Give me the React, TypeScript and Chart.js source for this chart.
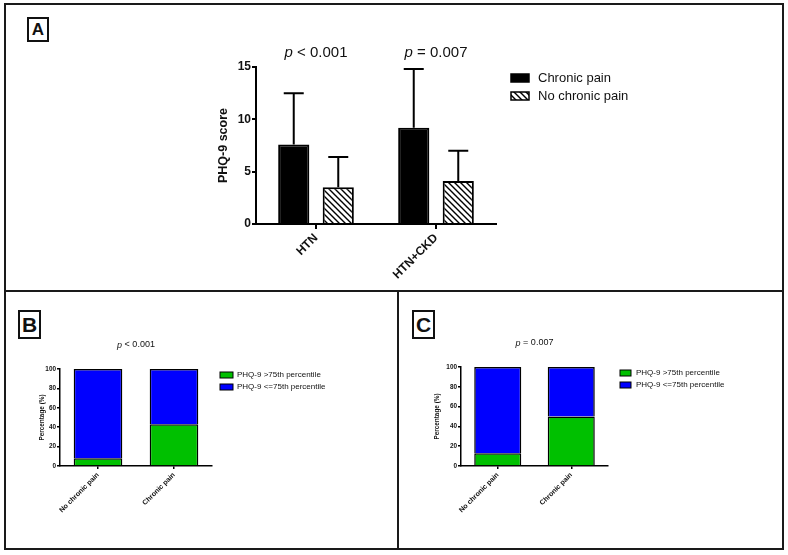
import React, { useEffect, useRef } from "react";
import { Chart, registerables } from "chart.js";

Chart.register(...registerables);

const FONT = "'Liberation Sans', Arial, Helvetica, sans-serif";

// ---------- Panel A data ----------
const aCategories = ["HTN", "HTN+CKD"];
const aSeriesLabels = ["Chronic pain", "No chronic pain"];
const aChronicMean = [7.6, 9.2];
const aChronicSD = [4.9, 5.6];
const aNoChronicMean = [3.5, 4.1];
const aNoChronicSD = [2.9, 2.9];
const aPValues = ["< 0.001", "= 0.007"];
const aYTicks = [0, 5, 10, 15];
const aYTitle = "PHQ-9 score";

// ---------- Panels B / C data ----------
const bcCategories = ["No chronic pain", "Chronic pain"];
const bcSeriesLabels = ["PHQ-9 >75th percentile", "PHQ-9 <=75th percentile"];
const bAbove = [8, 43];
const bBelow = [92, 57];
const cAbove = [13, 50];
const cBelow = [87, 50];
const bPValue = ["< 0.001"];
const cPValue = ["= 0.007"];
const bcYTicks = [0, 20, 40, 60, 80, 100];
const bcYTitle = "Percentage (%)";

const GREEN = "#00c000";
const BLUE = "#0000ff";

function makeHatch(): CanvasPattern | string {
  const s = 6;
  const c = document.createElement("canvas");
  c.width = s;
  c.height = s;
  const ctx = c.getContext("2d");
  if (!ctx) return "#fff";
  ctx.fillStyle = "#fff";
  ctx.fillRect(0, 0, s, s);
  ctx.strokeStyle = "#000";
  ctx.lineWidth = 1.4;
  ctx.beginPath();
  ctx.moveTo(-1, -1);
  ctx.lineTo(s + 1, s + 1);
  ctx.moveTo(-2, s - 2);
  ctx.lineTo(2, s + 2);
  ctx.moveTo(s - 2, -2);
  ctx.lineTo(s + 2, 2);
  ctx.stroke();
  return ctx.createPattern(c, "repeat") || "#fff";
}

const errorBarPlugin = {
  id: "errorBars",
  afterDatasetsDraw(chart: any) {
    const ctx = chart.ctx;
    const y = chart.scales.y;
    chart.data.datasets.forEach((ds: any, i: number) => {
      const errs: number[] | undefined = ds.errors;
      if (!errs) return;
      const meta = chart.getDatasetMeta(i);
      meta.data.forEach((bar: any, j: number) => {
        const top = y.getPixelForValue(ds.data[j] + errs[j]);
        ctx.save();
        ctx.strokeStyle = "#000";
        ctx.lineWidth = 2;
        ctx.beginPath();
        ctx.moveTo(bar.x, bar.y);
        ctx.lineTo(bar.x, top);
        ctx.moveTo(bar.x - 10, top);
        ctx.lineTo(bar.x + 10, top);
        ctx.stroke();
        ctx.restore();
      });
    });
  },
};

function boxLegendPlugin(cfg: {
  dx: number;
  dy: number;
  gap: number;
  boxW: number;
  boxH: number;
  textDx: number;
  size: number;
  bw: number;
}) {
  return {
    id: "boxLegend",
    afterDraw(chart: any) {
      const { ctx, chartArea } = chart;
      chart.data.datasets.forEach((ds: any, i: number) => {
        const x = chartArea.right + cfg.dx;
        const yc = chartArea.top + cfg.dy + i * cfg.gap;
        ctx.save();
        ctx.fillStyle = ds.backgroundColor;
        ctx.fillRect(x, yc - cfg.boxH / 2, cfg.boxW, cfg.boxH);
        ctx.lineWidth = cfg.bw;
        ctx.strokeStyle = "#000";
        ctx.strokeRect(x, yc - cfg.boxH / 2, cfg.boxW, cfg.boxH);
        ctx.fillStyle = "#111";
        ctx.font = `${cfg.size}px ${FONT}`;
        ctx.textBaseline = "middle";
        ctx.textAlign = "left";
        ctx.fillText(ds.label, x + cfg.textDx, yc);
        ctx.restore();
      });
    },
  };
}

function pValuePlugin(cfg: { texts: string[]; perCategory: boolean; dy: number; size: number }) {
  return {
    id: "pValues",
    afterDraw(chart: any) {
      const { ctx, chartArea, scales } = chart;
      cfg.texts.forEach((t, i) => {
        const cx = cfg.perCategory
          ? scales.x.getPixelForValue(i)
          : (chartArea.left + chartArea.right) / 2;
        const y = chartArea.top - cfg.dy;
        const italic = `italic ${cfg.size}px ${FONT}`;
        const normal = `${cfg.size}px ${FONT}`;
        const rest = " " + t;
        ctx.save();
        ctx.font = italic;
        const w1 = ctx.measureText("p").width;
        ctx.font = normal;
        const w2 = ctx.measureText(rest).width;
        const start = cx - (w1 + w2) / 2;
        ctx.textBaseline = "middle";
        ctx.textAlign = "left";
        ctx.fillStyle = "#111";
        ctx.font = italic;
        ctx.fillText("p", start, y);
        ctx.font = normal;
        ctx.fillText(rest, start + w1, y);
        ctx.restore();
      });
    },
  };
}

function buildA(): any {
  const hatch = makeHatch();
  return {
    type: "bar",
    data: {
      labels: aCategories,
      datasets: [
        {
          label: aSeriesLabels[0],
          data: aChronicMean,
          errors: aChronicSD,
          backgroundColor: "#000",
          borderColor: "#000",
          borderWidth: 2,
          categoryPercentage: 0.742,
          barPercentage: 0.7,
        },
        {
          label: aSeriesLabels[1],
          data: aNoChronicMean,
          errors: aNoChronicSD,
          backgroundColor: hatch,
          borderColor: "#000",
          borderWidth: 2,
          categoryPercentage: 0.742,
          barPercentage: 0.7,
        },
      ],
    },
    options: {
      animation: false,
      responsive: false,
      maintainAspectRatio: false,
      layout: { padding: { left: 36, right: 164, top: 27, bottom: 0 } },
      plugins: { legend: { display: false }, tooltip: { enabled: false } },
      scales: {
        x: {
          grid: {
            display: true,
            drawOnChartArea: false,
            offset: false,
            color: "#000",
            tickColor: "#000",
            lineWidth: 2,
            tickLength: 5,
          },
          border: { color: "#000", width: 2 },
          ticks: {
            color: "#111",
            font: { family: FONT, size: 12, weight: "bold" },
            minRotation: 45,
            maxRotation: 45,
            padding: 2,
          },
          afterFit(s: any) {
            s.height = 61;
          },
        },
        y: {
          min: 0,
          max: 15,
          afterBuildTicks(s: any) {
            s.ticks = aYTicks.map((v) => ({ value: v }));
          },
          grid: {
            display: true,
            drawOnChartArea: false,
            color: "#000",
            tickColor: "#000",
            lineWidth: 2,
            tickLength: 4,
          },
          border: { color: "#000", width: 2 },
          ticks: {
            color: "#111",
            font: { family: FONT, size: 12, weight: "bold" },
            padding: 1,
          },
          title: {
            display: true,
            text: aYTitle,
            color: "#111",
            font: { family: FONT, size: 12.5, weight: "bold" },
            padding: 0,
          },
          afterFit(s: any) {
            s.width = 40;
          },
        },
      },
    },
    plugins: [
      errorBarPlugin,
      boxLegendPlugin({ dx: 15, dy: 11, gap: 18, boxW: 18, boxH: 8, textDx: 27, size: 13, bw: 1.5 }),
      pValuePlugin({ texts: aPValues, perCategory: true, dy: 14, size: 15 }),
    ],
  };
}

function buildBC(
  above: number[],
  below: number[],
  pText: string[],
  pad: { left: number; right: number; top: number },
  yWidth: number,
  legendDx: number,
  legendBoxW: number,
  legendTextDx: number
): any {
  const common = {
    borderColor: "#000",
    borderWidth: 1.5,
    barPercentage: 0.64,
    categoryPercentage: 1,
  };
  return {
    type: "bar",
    data: {
      labels: bcCategories,
      datasets: [
        { label: bcSeriesLabels[0], data: above, backgroundColor: GREEN, ...common },
        { label: bcSeriesLabels[1], data: below, backgroundColor: BLUE, ...common },
      ],
    },
    options: {
      animation: false,
      responsive: false,
      maintainAspectRatio: false,
      layout: { padding: { left: pad.left, right: pad.right, top: pad.top, bottom: 0 } },
      plugins: { legend: { display: false }, tooltip: { enabled: false } },
      scales: {
        x: {
          stacked: true,
          grid: {
            display: true,
            drawOnChartArea: false,
            offset: false,
            color: "#000",
            tickColor: "#000",
            lineWidth: 1.5,
            tickLength: 3,
          },
          border: { color: "#000", width: 1.5 },
          ticks: {
            color: "#111",
            font: { family: FONT, size: 7, weight: "bold" },
            minRotation: 45,
            maxRotation: 45,
            padding: 2,
          },
          afterFit(s: any) {
            s.height = 79;
          },
        },
        y: {
          stacked: true,
          min: 0,
          max: 100,
          afterBuildTicks(s: any) {
            s.ticks = bcYTicks.map((v) => ({ value: v }));
          },
          grid: {
            display: true,
            drawOnChartArea: false,
            color: "#000",
            tickColor: "#000",
            lineWidth: 1.5,
            tickLength: 3,
          },
          border: { color: "#000", width: 1.5 },
          ticks: {
            color: "#111",
            font: { family: FONT, size: 6.4, weight: "bold" },
            padding: 1,
          },
          title: {
            display: true,
            text: bcYTitle,
            color: "#111",
            font: { family: FONT, size: 6.4, weight: "bold" },
            padding: 2,
          },
          afterFit(s: any) {
            s.width = yWidth;
          },
        },
      },
    },
    plugins: [
      boxLegendPlugin({ dx: legendDx, dy: 6, gap: 12, boxW: legendBoxW, boxH: 6, textDx: legendTextDx, size: 8, bw: 1 }),
      pValuePlugin({ texts: pText, perCategory: false, dy: 24, size: 9 }),
    ],
  };
}

function ChartPanel(props: { build: () => any; left: number; top: number; width: number; height: number }) {
  const ref = useRef<HTMLCanvasElement | null>(null);
  useEffect(() => {
    if (!ref.current) return;
    const chart = new Chart(ref.current, props.build());
    return () => chart.destroy();
  }, []);
  return (
    <canvas
      ref={ref}
      width={props.width}
      height={props.height}
      style={{
        position: "absolute",
        left: props.left,
        top: props.top,
        width: props.width,
        height: props.height,
      }}
    />
  );
}

function Letter(props: { text: string; left: number; top: number; w: number; h: number; size: number }) {
  return (
    <div
      style={{
        position: "absolute",
        left: props.left,
        top: props.top,
        width: props.w,
        height: props.h,
        border: "2px solid #111",
        boxSizing: "border-box",
        fontFamily: FONT,
        fontWeight: "bold",
        fontSize: props.size,
        lineHeight: `${props.h - 4}px`,
        textAlign: "center",
        color: "#111",
      }}
    >
      {props.text}
    </div>
  );
}

export default function App() {
  const line = "#1a1a1a";
  return (
    <div
      style={{
        position: "absolute",
        left: 0,
        top: 0,
        width: 788,
        height: 555,
        background: "#fff",
        overflow: "hidden",
      }}
    >
      <div
        style={{
          position: "absolute",
          left: 4,
          top: 3,
          width: 780,
          height: 547,
          border: `2px solid ${line}`,
          boxSizing: "border-box",
        }}
      />
      <div style={{ position: "absolute", left: 4, top: 290, width: 780, height: 2, background: line }} />
      <div style={{ position: "absolute", left: 397, top: 290, width: 2, height: 260, background: line }} />

      <Letter text="A" left={27} top={17} w={22} h={25} size={17} />
      <Letter text="B" left={18} top={310} w={23} h={29} size={21} />
      <Letter text="C" left={412} top={310} w={23} h={29} size={21} />

      <ChartPanel build={buildA} left={180} top={40} width={480} height={245} />
      <ChartPanel
        build={() =>
          buildBC(bAbove, bBelow, bPValue, { left: 28, right: 176, top: 69 }, 24, 8, 13, 17)
        }
        left={8}
        top={300}
        width={380}
        height={245}
      />
      <ChartPanel
        build={() =>
          buildBC(cAbove, cBelow, cPValue, { left: 29, right: 172, top: 67 }, 30, 12, 11, 16)
        }
        left={402}
        top={300}
        width={378}
        height={245}
      />
    </div>
  );
}
